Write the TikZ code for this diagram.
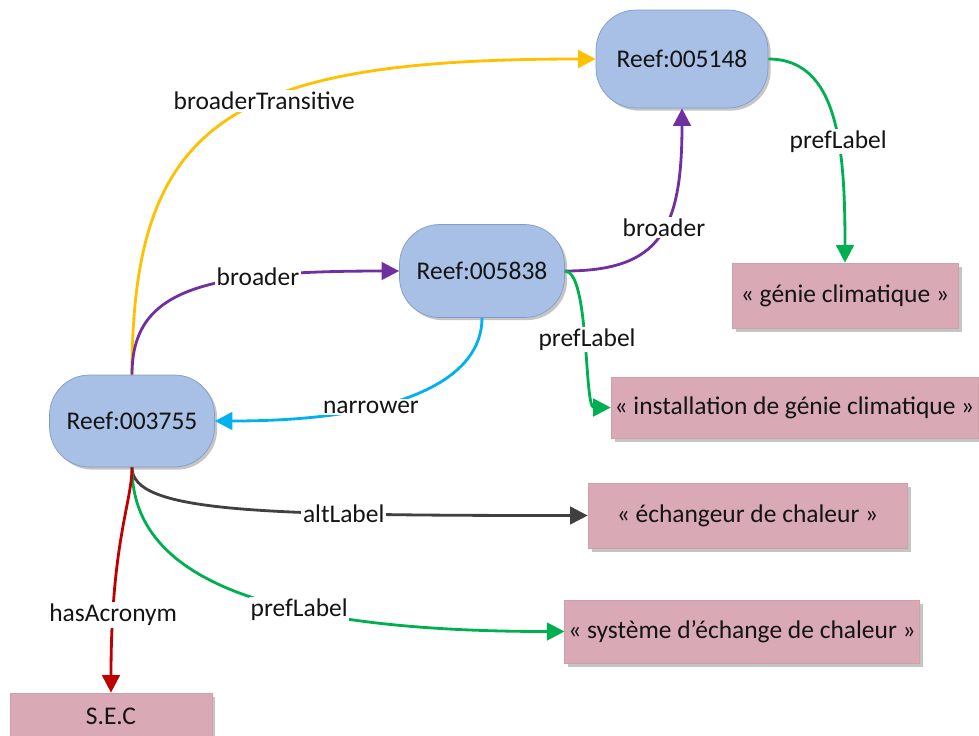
\documentclass[tikz,border=0pt]{standalone}
\usepackage{fontspec}
\setmainfont{Carlito}
\usetikzlibrary{arrows.meta,shapes,shadows,positioning,calc}
\tikzset{>={Triangle[length=10pt,width=10pt]}}

\definecolor{conceptfill}{RGB}{168,192,229}
\definecolor{conceptdraw}{RGB}{128,156,200}
\definecolor{literalfill}{RGB}{217,170,181}
\definecolor{literaldraw}{RGB}{205,160,170}
\definecolor{transcol}{RGB}{255,192,0}
\definecolor{broadcol}{RGB}{112,48,160}
\definecolor{narrowcol}{RGB}{0,176,240}
\definecolor{prefcol}{RGB}{0,176,80}
\definecolor{altcol}{RGB}{64,64,64}
\definecolor{acrocol}{RGB}{192,0,0}

\begin{document}
\begin{tikzpicture}[x=0.02cm, y=-0.02cm, font=\fontsize{14.5}{17}\selectfont, text=black!92,
	concept/.style={draw=conceptdraw, fill=conceptfill, rounded corners=0.8cm, minimum width=3.3cm, minimum height=1.86cm,
		drop shadow={shadow xshift=1.5pt, shadow yshift=-1.5pt, fill=black!45}},
	literal/.style={draw=literaldraw, fill=literalfill, minimum height=1.26cm, inner xsep=2pt,
		drop shadow={shadow xshift=2pt, shadow yshift=-2pt, fill=black!45}},
	rel/.style={line width=1.6pt, ->},
	tag/.style={fill=white, inner sep=1pt}]

	\useasboundingbox (0,0) rectangle (979,735);

	% concepts
	\node (reef-005148) [concept, minimum width=3.44cm, minimum height=1.96cm] at (682,59) {Reef:005148};
	\node (reef-005838) [concept] at (482,271) {Reef:005838};
	\node (reef-003755) [concept, minimum height=1.84cm] at (132,421) {Reef:003755};

	% literals
	\node (lit-genie) [literal, minimum width=4.52cm, minimum height=1.3cm] at (845,295.5) {« génie climatique »};
	\node (lit-install) [literal, minimum width=7.22cm, minimum height=1.22cm] at (794.5,407.5) {« installation de génie climatique »};
	\node (lit-echangeur) [literal, minimum width=6.38cm, minimum height=1.3cm] at (747.5,515.5) {« échangeur de chaleur »};
	\node (lit-systeme) [literal, minimum width=7cm] at (742,631.5) {« système d’échange de chaleur »};
	\node (lit-sec) [literal, minimum width=4.04cm, minimum height=0.92cm] at (111,716) {S.E.C};

	% relations
	\draw[rel, draw=transcol] (reef-003755.north) .. controls +(0,-255) and +(-365,0) .. node[tag, pos=0.58] {broaderTransitive} (reef-005148.west);
	\draw[rel, draw=broadcol] (reef-003755.north) .. controls +(0,-85) and +(-198,0) .. node[tag, pos=0.71] {broader} (reef-005838.west);
	\draw[rel, draw=broadcol] (reef-005838.east) .. controls +(95,0) and +(0,122) .. node[tag, pos=0.55] {broader} (reef-005148.south);
	\draw[rel, draw=narrowcol] (reef-005838.south) .. controls +(0,60) and +(190,0) .. node[tag, pos=0.66] {narrower} (reef-003755.east);
	\draw[rel, draw=prefcol] (reef-005148.east) .. controls +(70,0) and +(0,-115) .. node[tag, pos=0.6] {prefLabel} (lit-genie.north);
	\draw[rel, draw=prefcol] (reef-005838.east) .. controls +(25,0) and +(-27,0) .. node[tag, pos=0.5] {prefLabel} (lit-install.west);
	\draw[rel, draw=altcol] (reef-003755.south) .. controls +(0,45) and +(-330,0) .. node[tag, pos=0.7] {altLabel} (lit-echangeur.west);
	\draw[rel, draw=prefcol] (reef-003755.south) .. controls +(0,95) and +(-336,0) .. node[tag, pos=0.66] {prefLabel} (lit-systeme.west);
	\draw[rel, draw=acrocol] (reef-003755.south) .. controls +(0,35) and +(0,-150) .. node[tag, pos=0.8] {hasAcronym} (lit-sec.north);

\end{tikzpicture}
\end{document}
